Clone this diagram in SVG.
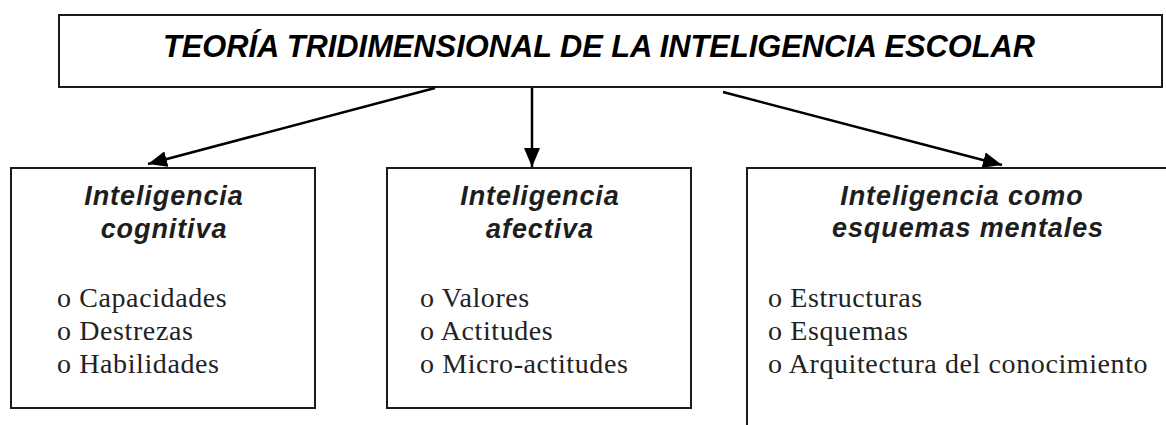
<svg xmlns="http://www.w3.org/2000/svg" width="1166" height="425" viewBox="0 0 1166 425">
<style>
.box{fill:#fff;stroke:#1a1a1a;stroke-width:2}
.title{font-family:"Liberation Sans",Arial,sans-serif;font-weight:bold;font-style:italic;font-size:30.8px;fill:#000}
.head{font-family:"Liberation Sans",Arial,sans-serif;font-weight:bold;font-style:italic;font-size:27px;letter-spacing:0.9px;fill:#1e1e1e;text-anchor:middle}
.item{font-family:"Liberation Serif","Times New Roman",serif;font-size:28px;letter-spacing:0.6px;fill:#222}
.conn{stroke:#000;stroke-width:2.5;fill:none;marker-end:url(#arr)}
</style>
<defs>
<marker id="arr" markerUnits="userSpaceOnUse" markerWidth="20" markerHeight="16" refX="19" refY="8" orient="auto">
<path d="M0,0 L19,8 L0,16 Z" fill="#000"/>
</marker>
</defs>
<g id="title">
<rect class="box" x="59" y="15" width="1103" height="72"/>
<text class="title" x="163" y="57">TEORÍA TRIDIMENSIONAL DE LA INTELIGENCIA ESCOLAR</text>
</g>
<g id="cognitiva">
<rect class="box" x="11" y="168" width="304" height="240"/>
<text class="head" x="164" y="205">Inteligencia</text>
<text class="head" x="164" y="238">cognitiva</text>
<text class="item" x="57" y="307">o Capacidades</text>
<text class="item" x="57" y="340">o Destrezas</text>
<text class="item" x="57" y="373">o Habilidades</text>
</g>
<g id="afectiva">
<rect class="box" x="387" y="168" width="304" height="240"/>
<text class="head" x="540" y="205">Inteligencia</text>
<text class="head" x="540" y="238">afectiva</text>
<text class="item" x="420" y="307">o Valores</text>
<text class="item" x="420" y="340">o Actitudes</text>
<text class="item" x="420" y="373">o Micro-actitudes</text>
</g>
<g id="esquemas">
<path class="box" d="M1167,168 H747 V426" fill="none"/>
<text class="head" x="962" y="205">Inteligencia como</text>
<text class="head" x="968" y="237">esquemas mentales</text>
<text class="item" x="768" y="307">o Estructuras</text>
<text class="item" x="768" y="340">o Esquemas</text>
<text class="item" x="768" y="373">o Arquitectura del conocimiento</text>
</g>
<g id="connectors">
<line class="conn" x1="435" y1="88" x2="148" y2="164"/>
<line class="conn" x1="532" y1="88" x2="532" y2="167"/>
<line class="conn" x1="723" y1="92" x2="1002" y2="165"/>
</g>
</svg>
